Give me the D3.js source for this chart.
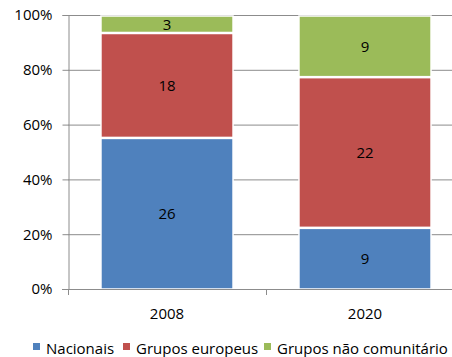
<!DOCTYPE html>
<html>
<head>
<meta charset="utf-8">
<script src="https://cdn.jsdelivr.net/npm/d3@7"></script>
<style>
  body { margin: 0; background: #fff; }
  text { font-family: "Open Sans", sans-serif; fill: #000; }
</style>
</head>
<body>
<div id="chart"></div>
<script>
// Data
var years = ["2008", "2020"];
var seriesNames = ["Nacionais", "Grupos europeus", "Grupos não comunitário"];
var nacionais = [26, 9];
var europeus = [18, 22];
var naoComunitario = [3, 9];
var yTicks = [0, 0.2, 0.4, 0.6, 0.8, 1];
var colors = ["#4F81BD", "#C0504D", "#9BBB59"];

var svgWidth = 452;
var svgHeight = 357;

var margin = { top: 15, right: -12, bottom: 68, left: 68 };
var width = svgWidth - margin.left - margin.right;
var height = svgHeight - margin.top - margin.bottom;

var svg = d3.select("#chart")
  .append("svg")
  .attr("width", svgWidth)
  .attr("height", svgHeight);

var chartGroup = svg.append("g")
  .attr("transform", `translate(${margin.left}, ${margin.top})`);

// build table for stack
var table = years.map(function (y, i) {
  return { year: y, a: nacionais[i], b: europeus[i], c: naoComunitario[i] };
});
var stack = d3.stack().keys(["a", "b", "c"]).offset(d3.stackOffsetExpand);
var stacked = stack(table);

var xScale = d3.scaleBand()
  .domain(years)
  .range([0, width])
  .paddingInner(0.333)
  .paddingOuter(0.1665);

var yScale = d3.scaleLinear()
  .domain([0, 1])
  .range([height, 0]);

// gridlines
chartGroup.selectAll(".grid")
  .data(yTicks.slice(1))
  .enter()
  .append("line")
  .attr("x1", 0)
  .attr("x2", width)
  .attr("y1", d => yScale(d) + 0.5)
  .attr("y2", d => yScale(d) + 0.5)
  .attr("stroke", "#8c8c8c")
  .attr("stroke-width", 1);

// bars
var layers = chartGroup.selectAll(".layer")
  .data(stacked)
  .enter()
  .append("g")
  .attr("fill", (d, i) => colors[i]);

layers.selectAll("rect")
  .data(d => d)
  .enter()
  .append("rect")
  .attr("x", d => xScale(d.data.year))
  .attr("y", d => yScale(d[1]) + 1)
  .attr("width", xScale.bandwidth())
  .attr("height", d => yScale(d[0]) - yScale(d[1]) - 1)
  .attr("stroke", "#fff")
  .attr("stroke-width", 1.5);

// data labels
layers.each(function (layer) {
  d3.select(this).selectAll("text")
    .data(layer)
    .enter()
    .append("text")
    .attr("x", d => xScale(d.data.year) + xScale.bandwidth() / 2)
    .attr("y", d => (yScale(d[0]) + yScale(d[1])) / 2 + 0.5)
    .attr("dy", "0.36em")
    .attr("text-anchor", "middle")
    .style("font-size", "15px")
    .text(d => d.data[layer.key]);
});

// y axis
var leftAxis = d3.axisLeft(yScale)
  .tickValues(yTicks)
  .tickFormat(d3.format(".0%"))
  .tickSize(6)
  .tickPadding(10);

var yAxisG = chartGroup.append("g")
  .attr("transform", "translate(0.5,0)")
  .call(leftAxis);
yAxisG.select(".domain").attr("stroke", "#8c8c8c");
yAxisG.selectAll(".tick line").attr("stroke", "#8c8c8c");
yAxisG.selectAll(".tick text").style("font-size", "15px").attr("fill", "#000");
yAxisG.selectAll(".tick").attr("transform", d => `translate(0,${yScale(d) + 0.5})`);

// x axis
chartGroup.append("line")
  .attr("x1", -6)
  .attr("x2", width)
  .attr("y1", height + 0.5)
  .attr("y2", height + 0.5)
  .attr("stroke", "#8c8c8c");

var boundaries = [0, width / 2, width];
chartGroup.selectAll(".xtick")
  .data(boundaries)
  .enter()
  .append("line")
  .attr("x1", d => d + 0.5)
  .attr("x2", d => d + 0.5)
  .attr("y1", height)
  .attr("y2", height + 6)
  .attr("stroke", "#8c8c8c");

chartGroup.selectAll(".xlabel")
  .data(years)
  .enter()
  .append("text")
  .attr("x", d => xScale(d) + xScale.bandwidth() / 2)
  .attr("y", height + 30)
  .attr("text-anchor", "middle")
  .style("font-size", "15px")
  .text(d => d);

// legend
var legendX = [33, 123, 264];
var legend = svg.selectAll(".legend")
  .data(seriesNames)
  .enter()
  .append("g")
  .attr("transform", (d, i) => `translate(${legendX[i]}, 343)`);

legend.append("rect")
  .attr("width", 7)
  .attr("height", 7)
  .attr("fill", (d, i) => colors[i]);

legend.append("text")
  .attr("x", 13)
  .attr("y", 11)
  .style("font-size", "15px")
  .text(d => d);
</script>
</body>
</html>
